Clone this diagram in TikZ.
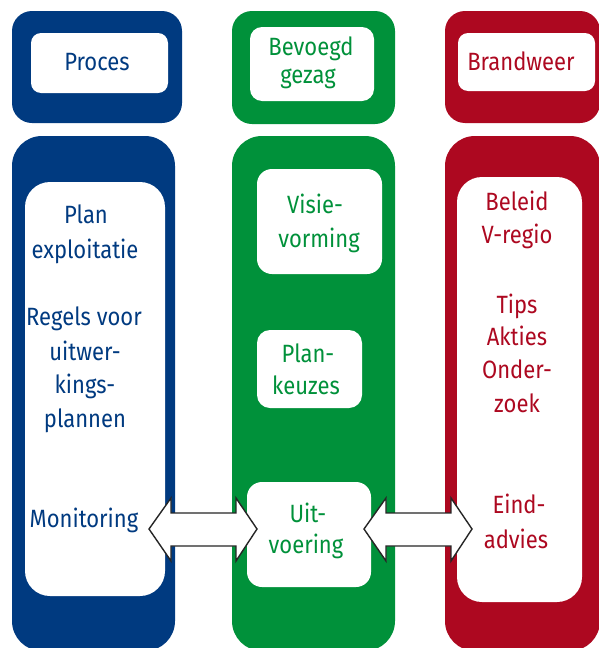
\documentclass[tikz,border=0pt]{standalone}
\usepackage{fontspec}
\setmainfont[FakeStretch=0.88]{Fira Sans}
\definecolor{cblue}{RGB}{0,58,128}
\definecolor{cgreen}{RGB}{0,145,58}
\definecolor{cred}{RGB}{173,8,32}
\tikzset{
  panel/.style={anchor=north west, inner sep=0pt, outer sep=0pt, draw=none},
  lbl/.style={anchor=base, inner sep=0pt, font=\fontsize{25}{33}\selectfont},
  twoway/.style={draw=black!85, line width=1.4pt, fill=white, line join=miter},
}
\begin{document}
\begin{tikzpicture}[x=1pt,y=-1pt]
\useasboundingbox (0,0) rectangle (599,648);
\fill[white] (0,0) rectangle (599,648);
% outer panels top
\node[panel, fill=cblue, rounded corners=20pt, minimum width=170pt, minimum height=112pt] (bt) at (12,11) {};
\node[panel, fill=cgreen, rounded corners=20pt, minimum width=163pt, minimum height=113pt] (gt) at (232,11) {};
\node[panel, fill=cred, rounded corners=20pt, minimum width=155pt, minimum height=112pt] (rt) at (445,11) {};
% outer panels lower
\node[panel, fill=cblue, rounded corners=30pt, minimum width=163pt, minimum height=515pt] (bl) at (12,136) {};
\node[panel, fill=cgreen, rounded corners=30pt, minimum width=163pt, minimum height=515pt] (gl) at (232,136) {};
\node[panel, fill=cred, rounded corners=30pt, minimum width=155pt, minimum height=515pt] (rl) at (445,136) {};
% inner white boxes
\node[panel, fill=white, rounded corners=10pt, minimum width=137pt, minimum height=60pt] (bti) at (31,33) {};
\node[panel, fill=white, rounded corners=12pt, minimum width=124pt, minimum height=74pt] (gti) at (250,27) {};
\node[panel, fill=white, rounded corners=10pt, minimum width=137pt, minimum height=58pt] (rti) at (458,33) {};
\node[panel, fill=white, rounded corners=25pt, minimum width=140pt, minimum height=414pt] (bli) at (25,182) {};
\node[panel, fill=white, rounded corners=15pt, minimum width=125pt, minimum height=105pt] (visie) at (257,169) {};
\node[panel, fill=white, rounded corners=13pt, minimum width=105pt, minimum height=78pt] (plank) at (257,330) {};
\node[panel, fill=white, rounded corners=15pt, minimum width=124pt, minimum height=105pt] (uitv) at (247,482) {};
\node[panel, fill=white, rounded corners=25pt, minimum width=125pt, minimum height=425pt] (rli) at (457,177) {};
% headings
\node[lbl, text=cblue] (t1) at (97,70) {Proces};
\node[lbl, text=cgreen] (t2a) at (311,55) {Bevoegd};
\node[lbl, text=cgreen] (t2b) at (308,83) {gezag};
\node[lbl, text=cred] (t3) at (521,70) {Brandweer};
% blue column
\node[lbl, text=cblue] (b1) at (86,223) {Plan};
\node[lbl, text=cblue] (b2) at (85,258) {exploitatie};
\node[lbl, text=cblue] (b3) at (84,325) {Regels voor};
\node[lbl, text=cblue] (b4) at (85,360) {uitwer-};
\node[lbl, text=cblue] (b5) at (85,393) {kings-};
\node[lbl, text=cblue] (b6) at (85,427) {plannen};
\node[lbl, text=cblue] (b7) at (84,527) {Monitoring};
% green column
\node[lbl, text=cgreen] (g1) at (315,213) {Visie-};
\node[lbl, text=cgreen] (g2) at (319,247) {vorming};
\node[lbl, text=cgreen] (g3) at (308,362) {Plan-};
\node[lbl, text=cgreen] (g4) at (306,394) {keuzes};
\node[lbl, text=cgreen] (g5) at (308,522) {Uit-};
\node[lbl, text=cgreen] (g6) at (306,553) {voering};
% red column
\node[lbl, text=cred] (r1) at (517,210) {Beleid};
\node[lbl, text=cred] (r2) at (517,243) {V-regio};
\node[lbl, text=cred] (r3) at (517,313) {Tips};
\node[lbl, text=cred] (r4) at (517,345) {Akties};
\node[lbl, text=cred] (r5) at (517,378) {Onder-};
\node[lbl, text=cred] (r6) at (517,412) {zoek};
\node[lbl, text=cred] (r7) at (519,513) {Eind-};
\node[lbl, text=cred] (r8) at (516,548) {advies};
% double arrows
\draw[twoway] (149,529) -- (171,498) -- (171,513) -- (236,513) -- (236,498) -- (257,529)
  -- (236,561) -- (236,546) -- (171,546) -- (171,561) -- cycle;
\draw[twoway] (364,529) -- (386,498) -- (386,513) -- (451,513) -- (451,498) -- (472,529)
  -- (451,561) -- (451,546) -- (386,546) -- (386,561) -- cycle;
\end{tikzpicture}
\end{document}
